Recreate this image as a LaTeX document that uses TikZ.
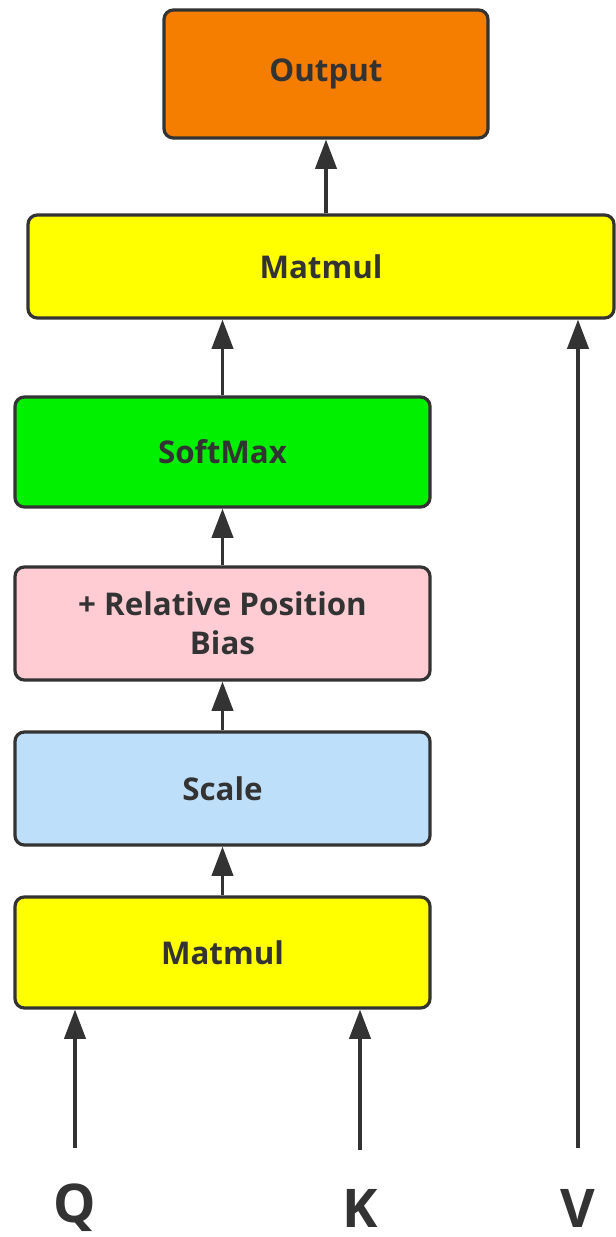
\documentclass[tikz,border=0pt]{standalone}
\usepackage{fontspec}
\setmainfont{Open Sans}
\usetikzlibrary{arrows.meta}
\definecolor{ink}{HTML}{333333}
\definecolor{outorange}{HTML}{F57D00}
\definecolor{matyellow}{HTML}{FFFF00}
\definecolor{softgreen}{HTML}{00F000}
\definecolor{biaspink}{HTML}{FFCCD4}
\definecolor{scaleblue}{HTML}{BDDFF9}
\tikzset{
  opbox/.style={draw=ink, line width=2.4pt, rounded corners=7pt, inner sep=0pt,
    font=\bfseries\fontsize{23.5}{29.5}\selectfont, text=ink, align=center},
  flow/.style={draw=ink, line width=2.4pt,
    -{Triangle[length=22pt, width=16pt]}},
  inlabel/.style={font=\bfseries\fontsize{40}{44}\selectfont, text=ink,
    inner sep=0pt}
}
\begin{document}
\begin{tikzpicture}[x=0.75pt, y=-0.75pt]
\useasboundingbox (0,0) rectangle (616,1237);

% operation boxes, listed top to bottom
\node[opbox, fill=outorange, minimum width=324*0.75pt, minimum height=128*0.75pt]
  (out) at (326,74) {Output};
\node[opbox, fill=matyellow, minimum width=586*0.75pt, minimum height=103*0.75pt]
  (mm2) at (321,266.5) {Matmul};
\node[opbox, fill=softgreen, minimum width=415*0.75pt, minimum height=110*0.75pt]
  (soft) at (222.5,452) {SoftMax};
\node[opbox, fill=biaspink, minimum width=415*0.75pt, minimum height=113*0.75pt]
  (bias) at (222.5,623.5) {+ Relative Position\\Bias};
\node[opbox, fill=scaleblue, minimum width=415*0.75pt, minimum height=113*0.75pt]
  (scale) at (222.5,788.5) {Scale};
\node[opbox, fill=matyellow, minimum width=415*0.75pt, minimum height=111*0.75pt]
  (mm1) at (222.5,952.5) {Matmul};

% inputs
\node[inlabel] (q) at (75,1208) {Q};
\node[inlabel] (k) at (360,1208) {K};
\node[inlabel] (v) at (578,1208) {V};
\coordinate (qs) at (75,1148);
\coordinate (ks) at (360,1150);
\coordinate (vs) at (578,1148);

% data flow
\draw[flow] (qs) -- (qs |- mm1.south);
\draw[flow] (ks) -- (ks |- mm1.south);
\draw[flow] (vs) -- (vs |- mm2.south);
\draw[flow] (mm1.north) -- (scale.south);
\draw[flow] (scale.north) -- (bias.south);
\draw[flow] (bias.north) -- (soft.south);
\draw[flow] (soft.north) -- (soft.north |- mm2.south);
\draw[flow] (out.south |- mm2.north) -- (out.south);
\end{tikzpicture}
\end{document}
